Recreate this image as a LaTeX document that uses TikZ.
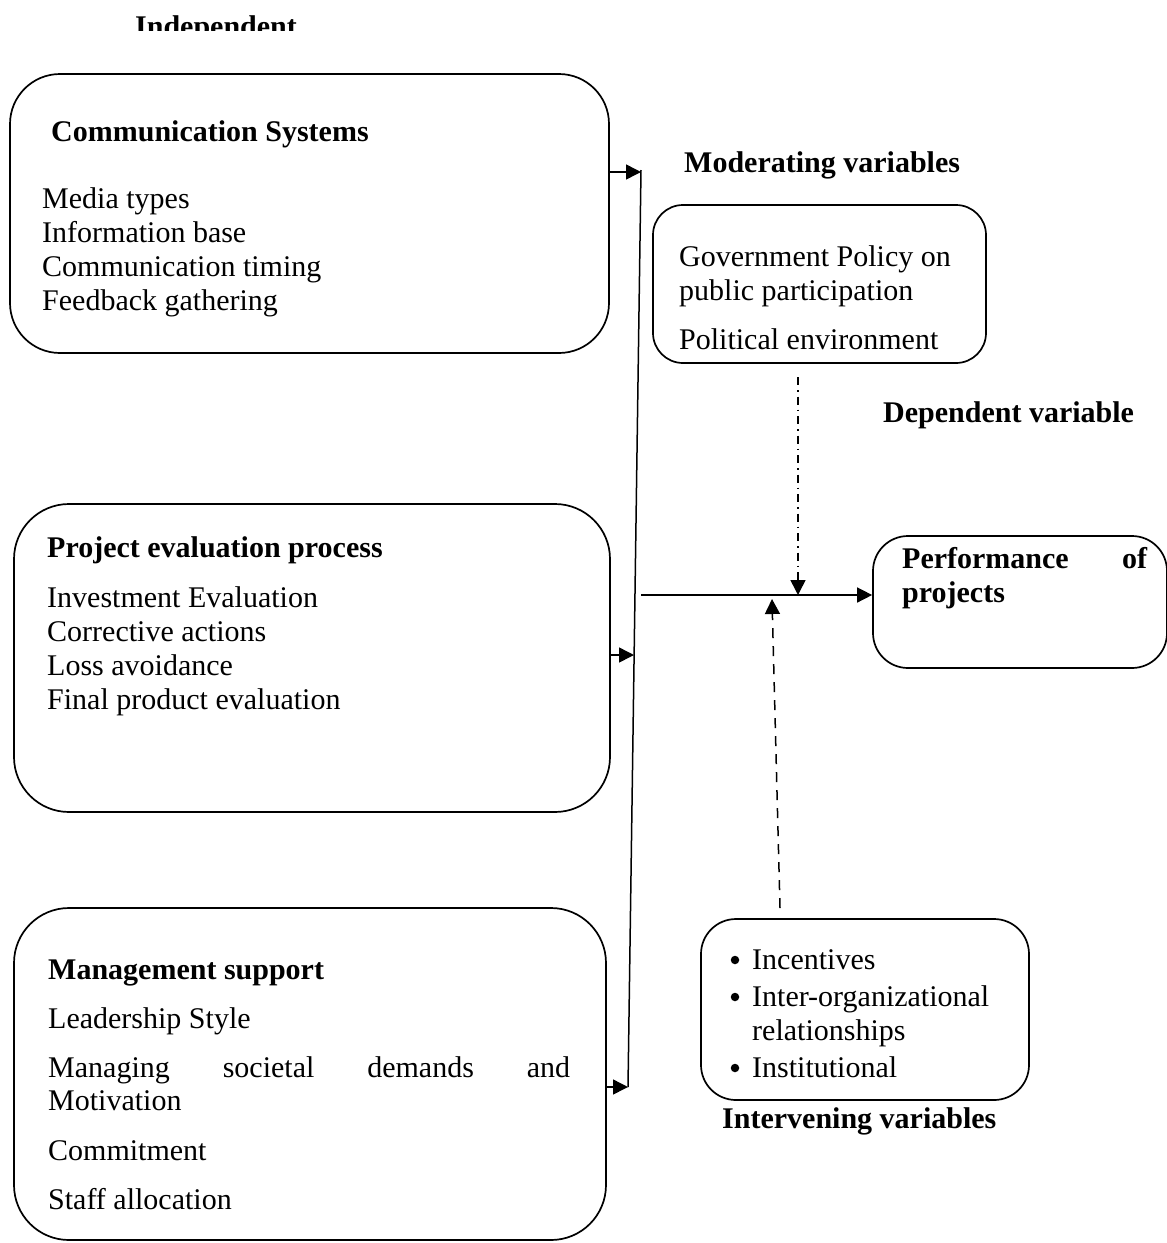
\documentclass[tikz,border=0pt]{standalone}
\usepackage{fontspec}
\setmainfont{Liberation Serif}
\usetikzlibrary{arrows.meta,calc}
\tikzset{
  box/.style={draw, line width=1.7pt, rectangle, inner sep=0pt},
  txt/.style={anchor=base west, inner sep=0pt, font=\fontsize{30}{34}\selectfont},
  ttl/.style={anchor=base west, inner sep=0pt, font=\fontsize{30}{34}\selectfont\bfseries},
  bul/.style={circle, fill=black, inner sep=0pt, minimum size=8.5pt},
  arr/.style={line width=1.5pt, -{Triangle[length=15pt,width=15pt]}},
  dashdot/.style={dash pattern=on 8pt off 5pt on 1.5pt off 5pt},
  dashedln/.style={dash pattern=on 10pt off 8pt}
}
\begin{document}
\begin{tikzpicture}[x=1pt,y=-1pt]
\useasboundingbox (0,0) rectangle (1167,1243);

% boxes
\node[box, rounded corners=50pt, minimum width=599pt, minimum height=279pt] (cs) at (309.5,213.5) {};
\node[box, rounded corners=55pt, minimum width=596pt, minimum height=308pt] (pe) at (312,658) {};
\node[box, rounded corners=55pt, minimum width=592pt, minimum height=332pt] (ms) at (310,1074) {};
\node[box, rounded corners=30pt, minimum width=333pt, minimum height=158pt] (mod) at (819.5,284) {};
\node[box, rounded corners=35pt, minimum width=294pt, minimum height=132pt] (perf) at (1020,602) {};
\node[box, rounded corners=35pt, minimum width=328pt, minimum height=181pt] (iv) at (865,1009.5) {};

% headings
\begin{scope}
\clip (0,0) rectangle (1167,30);
\node[ttl] (tind) at (135,36) {Independent};
\end{scope}
\node[ttl] (tmodv) at (684,172) {Moderating variables};
\node[ttl] (tdep) at (883,422) {Dependent variable};
\node[ttl] (tint) at (722,1128) {Intervening variables};

% Communication systems
\node[ttl] (tcs) at (51,141) {Communication Systems};
\node[txt] (c1) at (42,208) {Media types};
\node[txt] (c2) at (42,242) {Information base};
\node[txt] (c3) at (42,276) {Communication timing};
\node[txt] (c4) at (42,310) {Feedback gathering};

% Moderating
\node[txt] (m1) at (679,266) {Government Policy on};
\node[txt] (m2) at (679,300) {public participation};
\node[txt] (m3) at (679,349) {Political environment};

% Project evaluation
\node[ttl] (tpe) at (47,557) {Project evaluation process};
\node[txt] (p1) at (47,607) {Investment Evaluation};
\node[txt] (p2) at (47,641) {Corrective actions};
\node[txt] (p3) at (47,675) {Loss avoidance};
\node[txt] (p4) at (47,709) {Final product evaluation};

% Performance
\node[ttl] (tp1) at (902,568) {\makebox[245pt][l]{Performance\hfill of}};
\node[ttl] (tp2) at (902,602) {projects};

% Management support
\node[ttl] (tms) at (48,979) {Management support};
\node[txt] (s1) at (48,1028) {Leadership Style};
\node[txt] (s2) at (48,1077) {\makebox[522pt][l]{Managing\hfill societal\hfill demands\hfill and}};
\node[txt] (s3) at (48,1110) {Motivation};
\node[txt] (s4) at (48,1160) {Commitment};
\node[txt] (s5) at (48,1209) {Staff allocation};

% Intervening
\node[bul] (b1) at (735,960) {};
\node[txt] (i1) at (752,969) {Incentives};
\node[bul] (b2) at (735,997) {};
\node[txt] (i2) at (752,1006) {Inter-organizational};
\node[txt] (i3) at (752,1040) {relationships};
\node[bul] (b3) at (735,1068) {};
\node[txt] (i4) at (752,1077) {Institutional};

% connectors
\coordinate (vtop) at (641,170);
\coordinate (vbot) at (628,1087);
\coordinate (j1) at (641,172);
\coordinate (j2) at (634,655);
\coordinate (j3) at (628,1087);
\draw[line width=1.5pt] (vtop) -- (vbot);
\draw[arr] (cs.east |- j1) -- (j1);
\draw[arr] (pe.east |- j2) -- (j2);
\draw[arr] (ms.east |- j3) -- (j3);

\coordinate (hstart) at (641,595);
\draw[arr] (hstart) -- (perf.west |- hstart);

\coordinate (dd) at (798,377);
\draw[arr, dashdot] (dd) -- (dd |- hstart);

\coordinate (du) at (780,908);
\coordinate (dutip) at (772,599);
\draw[arr, dashedln] (du) -- (dutip);
\end{tikzpicture}
\end{document}
